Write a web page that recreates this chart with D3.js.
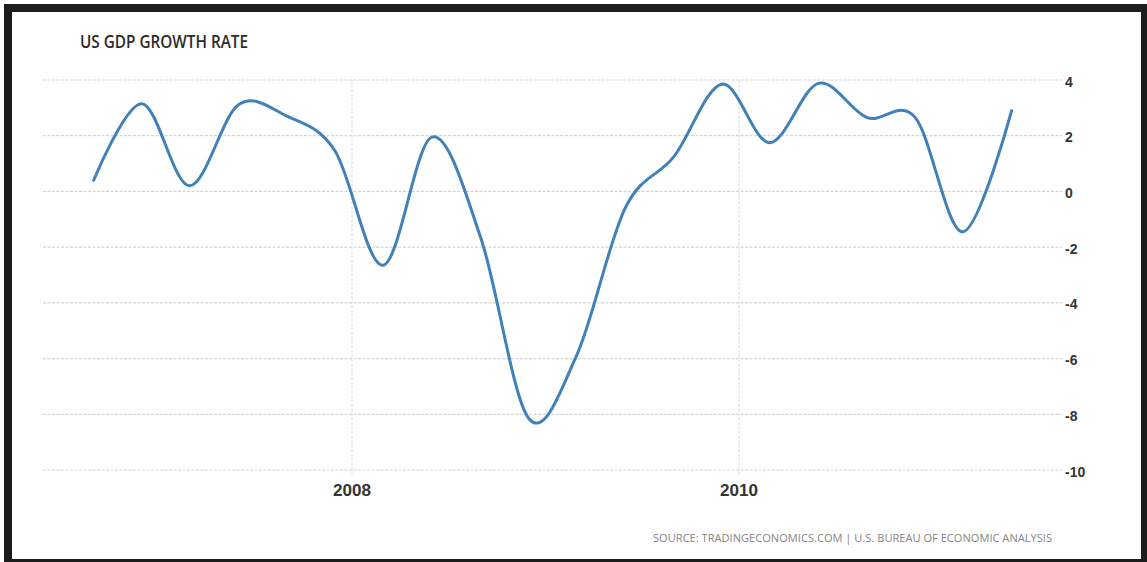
<!DOCTYPE html>
<html>
<head>
<meta charset="utf-8">
<script src="https://cdn.jsdelivr.net/npm/d3@7"></script>
<style>
  html, body { margin: 0; padding: 0; background: #ffffff; }
  svg { display: block; }
</style>
</head>
<body>
<svg id="chart" width="1147" height="562"></svg>
<script>
// ---- data ----
const title = "US GDP GROWTH RATE";
const sourceText = "SOURCE: TRADINGECONOMICS.COM  |  U.S. BUREAU OF ECONOMIC ANALYSIS";
const dates = [
  "2006-08-31", "2006-11-30", "2007-02-28", "2007-05-31",
  "2007-08-31", "2007-11-30", "2008-02-29", "2008-05-31",
  "2008-08-31", "2008-11-30", "2009-02-28", "2009-05-31",
  "2009-08-31", "2009-11-30", "2010-02-28", "2010-05-31",
  "2010-08-31", "2010-11-30", "2011-02-28", "2011-05-31"
];
const growth = [
  0.4, 3.15, 0.2, 3.1,
  2.7, 1.45, -2.65, 1.95,
  -1.65, -8.15, -5.9, -0.6,
  1.25, 3.85, 1.75, 3.88,
  2.65, 2.65, -1.45, 2.9
];
const yTicks = [4, 2, 0, -2, -4, -6, -8, -10];
const xTickLabels = ["2008", "2010"];

// ---- drawing ----
const svg = d3.select("#chart");
const parse = d3.utcParse("%Y-%m-%d");
const data = dates.map((d, i) => ({ date: parse(d), value: growth[i] }));

const x = d3.scaleUtc()
  .domain([parse("2008-01-01"), parse("2010-01-01")])
  .range([352, 739]);
const y = d3.scaleLinear().domain([-10, 4]).range([470, 80]);

const gridLeft = 43, gridRight = 1062;

// horizontal grid
svg.append("g").selectAll("line").data(yTicks).join("line")
  .attr("x1", gridLeft).attr("x2", gridRight)
  .attr("y1", d => y(d)).attr("y2", d => y(d))
  .attr("stroke", "#d4d4d4").attr("stroke-width", 1.2)
  .attr("stroke-dasharray", "3,1.5");

// vertical grid at year ticks
const xTicks = xTickLabels.map(s => parse(s + "-01-01"));
svg.append("g").selectAll("line").data(xTicks).join("line")
  .attr("x1", d => x(d)).attr("x2", d => x(d))
  .attr("y1", y(4)).attr("y2", y(-10) + 6)
  .attr("stroke", "#dcdcdc").attr("stroke-width", 1.1)
  .attr("stroke-dasharray", "3,1.5");

// y labels (right)
svg.append("g").selectAll("text").data(yTicks).join("text")
  .attr("x", 1065).attr("y", d => y(d) + 6.5)
  .attr("font-family", "Liberation Sans, Arial, sans-serif")
  .attr("font-weight", "bold").attr("font-size", 14)
  .attr("fill", "#333")
  .text(d => d);

// x labels
svg.append("g").selectAll("text").data(xTicks).join("text")
  .attr("x", d => x(d)).attr("y", 496)
  .attr("text-anchor", "middle")
  .attr("font-family", "Liberation Sans, Arial, sans-serif")
  .attr("font-weight", "bold").attr("font-size", 17)
  .attr("textLength", 38).attr("lengthAdjust", "spacingAndGlyphs")
  .attr("fill", "#333")
  .text((d, i) => xTickLabels[i]);

// line
const line = d3.line()
  .x(d => x(d.date)).y(d => y(d.value))
  .curve(d3.curveCardinal.tension(0));
svg.append("path").datum(data)
  .attr("d", line)
  .attr("fill", "none")
  .attr("stroke", "#4181b8")
  .attr("stroke-width", 3)
  .attr("stroke-linejoin", "round")
  .attr("stroke-linecap", "round");

// title
svg.append("text")
  .attr("x", 80).attr("y", 48)
  .attr("font-family", "Open Sans, sans-serif")
  .attr("font-weight", 600).attr("font-size", 17.5)
  .attr("textLength", 168).attr("lengthAdjust", "spacingAndGlyphs")
  .attr("fill", "#2b2b2b")
  .text(title);

// source
svg.append("text")
  .attr("x", 653).attr("y", 542)
  .attr("font-family", "Open Sans, sans-serif")
  .attr("font-size", 11.5)
  .attr("textLength", 399).attr("lengthAdjust", "spacingAndGlyphs")
  .attr("fill", "#858585")
  .text(sourceText);

// frame
svg.append("rect")
  .attr("x", 8).attr("y", 8).attr("width", 1137).attr("height", 555)
  .attr("fill", "none").attr("stroke", "#1c1c1c").attr("stroke-width", 8);
</script>
</body>
</html>
